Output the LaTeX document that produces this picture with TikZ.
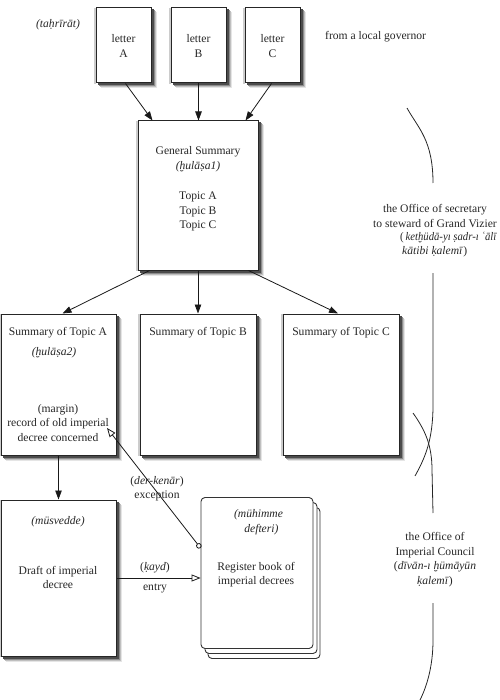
\documentclass[tikz,border=0pt]{standalone}
\usepackage{fontspec}
\usepackage{graphicx}
\setmainfont{Liberation Serif}
\usetikzlibrary{arrows.meta,calc,backgrounds}
\newcommand\ubx[3]{\iffontchar\font#2\relax\char#2\relax\else\leavevmode\setbox0\hbox{#1}\rlap{\hbox to\wd0{\hss#3\hss}}\box0\fi}
\newcommand\udot{\raisebox{-0.28em}[0pt][0pt]{.}}
\newcommand\ubrv{\raisebox{-0.8em}[0pt][0pt]{\char"02D8}}
\newcommand\hdot{\ubx{h}{"1E25}{\udot}}
\newcommand\sdot{\ubx{s}{"1E63}{\udot}}
\newcommand\kdot{\ubx{k}{"1E33}{\udot}}
\newcommand\hbrv{\ubx{h}{"1E2B}{\ubrv}}
\newcommand\ayn{\iffontchar\font"02BF\relax\char"02BF\relax\else‘\fi}
\newcommand\boxshadow[1]{%
  \begin{pgfonlayer}{background}
  \fill[black!10] ([shift={(5,5)}]#1.north west) rectangle ([shift={(5,5)}]#1.south east);
  \fill[black!25] ([shift={(4,4)}]#1.north west) rectangle ([shift={(4,4)}]#1.south east);
  \fill[black!45] ([shift={(3,3)}]#1.north west) rectangle ([shift={(3,3)}]#1.south east);
  \fill[black!70] ([shift={(2,2)}]#1.north west) rectangle ([shift={(2,2)}]#1.south east);
  \fill[black!20] ([shift={(-1.5,0.5)}]#1.north west) rectangle ([shift={(0,0.5)}]#1.south west);
  \end{pgfonlayer}}
\begin{document}
\begin{tikzpicture}[x=1pt,y=-1pt,
  font=\fontsize{11.6}{14.5}\selectfont, text=black!85,
  box/.style={draw=black!85, line width=1pt, fill=white, inner sep=0pt},
  page/.style={draw=black!80, line width=0.9pt, fill=white, rounded corners=4pt, inner sep=0pt, minimum width=112pt, minimum height=151pt},
  txt/.style={inner sep=0pt, align=center},
  arr/.style={line width=0.8pt, black!90, -{Triangle[length=9pt,width=6.5pt]}},
  oarr/.style={line width=0.8pt, black!90, -{Triangle[open,length=9pt,width=7pt]}},
  brace/.style={line width=0.8pt, black!85}]
\useasboundingbox (0,0) rectangle (499,700);

% letters
\node[box, minimum width=55pt, minimum height=75pt] (la) at (123.5,45.5) {};
\node[box, minimum width=55pt, minimum height=75pt] (lb) at (198.5,45.5) {};
\node[box, minimum width=55pt, minimum height=75pt] (lc) at (272.5,45.5) {};
\node[txt] (tla) at (123.5,46) {letter\\A};
\node[txt] (tlb) at (198.5,46) {letter\\B};
\node[txt] (tlc) at (272.5,46) {letter\\C};
\node[txt] (tahrirat) at (58,25) {\textit{(ta\hdot rīrāt)}};
\node[txt, anchor=west] (gov) at (325,37) {from a local governor};

% general summary
\node[box, minimum width=120pt, minimum height=149pt] (gs) at (198,195.5) {};
\node[txt] (gst) at (198,159) {General Summary\\\textit{(\hbrv ulā\sdot a1)}};
\node[txt] (gsl) at (198,211.5) {Topic A\\Topic B\\Topic C};

% topic summaries
\node[box, minimum width=115pt, minimum height=141pt] (ta) at (58.5,384.5) {};
\node[box, minimum width=116pt, minimum height=141pt] (tb) at (198,384.5) {};
\node[box, minimum width=116pt, minimum height=141pt] (tc) at (341,384.5) {};
\node[txt] (tat) at (58,333) {Summary of Topic A};
\node[txt] (tah) at (54,353) {\textit{(\hbrv ulā\sdot a2)}};
\node[txt] (tam) at (58,423) {(margin)\\record of old imperial\\decree concerned};
\node[txt] (tbt) at (198,333) {Summary of Topic B};
\node[txt] (tct) at (341,333) {Summary of Topic C};

% draft
\node[box, minimum width=115pt, minimum height=156pt] (dr) at (58.5,578) {};
\node[txt] (drm) at (58,522) {\textit{(müsvedde)}};
\node[txt] (drt) at (58,577.5) {Draft of imperial\\decree};

% shadows
\boxshadow{la}\boxshadow{lb}\boxshadow{lc}\boxshadow{gs}
\boxshadow{ta}\boxshadow{tb}\boxshadow{tc}\boxshadow{dr}

% register book
\node[page] (rb2) at (264,583) {};
\node[page] (rb1) at (261,578) {};
\node[page] (rb) at (257,573) {};
\node[txt] (rbm) at (258.5,522) {\textit{(mühimme}\\\textit{\ \ defteri)}};
\node[txt] (rbt) at (256,574.5) {Register book of\\imperial decrees};

% arrows
\draw[arr] ([xshift=2pt]la.south) -- ([xshift=15pt]gs.north west);
\draw[arr] (lb.south) -- (lb.south |- gs.north);
\draw[arr] ([xshift=-1pt]lc.south) -- ([xshift=-13pt]gs.north east);
\draw[arr] ([xshift=12pt]gs.south west) -- ([xshift=4pt]ta.north);
\draw[arr] (gs.south) -- (tb.north);
\draw[arr] ([xshift=-10pt]gs.south east) -- ([xshift=-3pt]tc.north);
\draw[arr] (ta.south) -- (dr.north);

% entry
\coordinate (ey) at (0,578);
\node[txt] (kayd) at (155,568) {(\textit{\kdot ayd})};
\node[txt] (entry) at (155,588) {entry};
\draw[oarr] (dr.east |- ey) -- (rb.west |- ey);

% exception
\node[txt] (derk) at (157,482) {(\textit{der-kenār})};
\node[txt] (exc) at (157,496) {exception};
\coordinate (dk) at (107,428);
\coordinate (dks) at (0,548);
\draw[line width=0.8pt, black!90, {Circle[open,length=5.5pt]}-{Triangle[open,length=9pt,width=7pt]}] (rb.west |- dks) -- (dk);

% braces
\draw[brace] (407,108) .. controls (418,128) and (433,140) .. (433,183);
\draw[brace] (433,273) -- (433,405) .. controls (433,440) and (425,458) .. (415,476);
\draw[brace] (413,413) .. controls (425,430) and (432,445) .. (432,470) -- (433,513);
\draw[brace] (433,603) -- (433,640) .. controls (433,668) and (426,688) .. (420,700);

% office texts
\node[txt] (off1) at (435,216) {the Office of secretary\\to steward of Grand Vizier};
\node[txt, anchor=west] (off1a) at (400,238) {\resizebox{97pt}{\height}{(\,\textit{ket\hbrv üdā-yı \sdot adr-ı \ayn ālī}}};
\node[txt, anchor=west] (off1b) at (402,252) {\textit{kātibi \kdot alemī})};
\node[txt] (off2) at (435,559.5) {the Office of\\Imperial Council\\(\textit{dīvān-ı \hbrv ümāyūn}\\\textit{\kdot alemī})};
\end{tikzpicture}
\end{document}
